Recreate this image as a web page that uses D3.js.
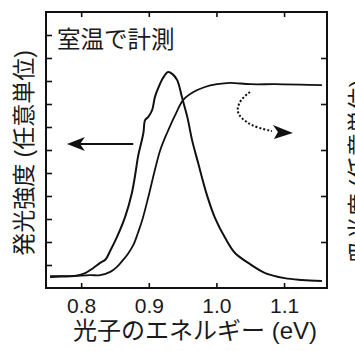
<!DOCTYPE html>
<html>
<head>
<meta charset="utf-8">
<script src="https://cdn.jsdelivr.net/npm/d3@7"></script>
<style>
  html, body { margin: 0; padding: 0; background: #fff; }
  svg text { font-family: "Liberation Sans", "Noto Sans CJK JP", sans-serif; fill: #1a1a1a; }
</style>
</head>
<body>
<div id="chart"></div>
<script>
// photon energy (eV) vs PL intensity (arb. units)
const plEnergy = [0.754, 0.770, 0.790, 0.806, 0.818, 0.828, 0.836, 0.843, 0.853, 0.865, 0.875, 0.881, 0.884,
  0.892, 0.8945, 0.899, 0.905, 0.909, 0.914, 0.921, 0.9285, 0.935, 0.942, 0.949, 0.957, 0.964, 0.973,
  0.986, 0.998, 1.013, 1.0275, 1.047, 1.072, 1.101, 1.126, 1.156];
const plIntensity = [0.48, 0.50, 0.52, 0.65, 0.87, 1.09, 1.24, 1.62, 2.22, 3.09, 4.13, 5.13, 5.70,
  6.74, 7.30, 7.43, 7.74, 8.30, 8.70, 9.13, 9.39, 9.30, 9.04, 8.30, 7.43, 6.43, 5.43,
  4.04, 3.04, 2.17, 1.52, 1.09, 0.65, 0.43, 0.35, 0.30];

// photon energy (eV) vs absorbance (arb. units)
const absEnergy = [0.754, 0.784, 0.813, 0.828, 0.843, 0.853, 0.862, 0.869, 0.877, 0.884, 0.890, 0.899,
  0.909, 0.917, 0.927, 0.939, 0.951, 0.966, 0.983, 1.001, 1.020, 1.050, 1.087, 1.124, 1.156];
const absValue = [0.26, 0.26, 0.28, 0.28, 0.35, 0.46, 0.61, 0.74, 0.93, 1.20, 1.46, 1.96,
  2.565, 3.00, 3.37, 3.76, 4.09, 4.26, 4.37, 4.43, 4.46, 4.43, 4.43, 4.42, 4.41];

const xTicks = [0.8, 0.9, 1.0, 1.1];
const plTicks = d3.range(1, 12);
const absTicks = [1, 2, 3, 4, 5];

const W = 355, H = 351;
const m = { left: 46, right: 28, top: 12, bottom: 63 };

const svg = d3.select('#chart').append('svg')
  .attr('width', W).attr('height', H);

const x = d3.scaleLinear().domain([0.748, 1.1635]).range([m.left, W - m.right]);
const yPL = d3.scaleLinear().domain([0, 12]).range([H - m.bottom, m.top]);
const yAbs = d3.scaleLinear().domain([0, 6]).range([H - m.bottom, m.top]);

// axes (ticks inside the frame)
const gB = svg.append('g').attr('transform', `translate(0,${H - m.bottom})`)
  .call(d3.axisBottom(x).tickValues(xTicks).tickSize(-5).tickPadding(10).tickFormat(d3.format('.1f')));
const gT = svg.append('g').attr('transform', `translate(0,${m.top})`)
  .call(d3.axisTop(x).tickValues(xTicks).tickSize(-5).tickFormat(''));
const gL = svg.append('g').attr('transform', `translate(${m.left},0)`)
  .call(d3.axisLeft(yPL).tickValues(plTicks).tickSize(-6).tickFormat(''));
const gR = svg.append('g').attr('transform', `translate(${W - m.right},0)`)
  .call(d3.axisRight(yAbs).tickValues(absTicks).tickSize(-6).tickFormat(''));

[gB, gT, gL, gR].forEach(g => {
  g.select('.domain').remove();
  g.selectAll('.tick line').attr('stroke', '#111').attr('stroke-width', 1.6);
});
gB.selectAll('.tick text').style('font-size', '21px').attr('fill', '#1a1a1a');

svg.append('rect')
  .attr('x', m.left).attr('y', m.top)
  .attr('width', W - m.left - m.right).attr('height', H - m.top - m.bottom)
  .attr('fill', 'none').attr('stroke', '#111').attr('stroke-width', 2);

// curves
const plLine = d3.line()
  .x((d, i) => x(plEnergy[i]))
  .y(d => yPL(d))
  .curve(d3.curveCatmullRom);
svg.append('path')
  .attr('d', plLine(plIntensity))
  .attr('fill', 'none').attr('stroke', '#111').attr('stroke-width', 2);

const absLine = d3.line()
  .x((d, i) => x(absEnergy[i]))
  .y(d => yAbs(d))
  .curve(d3.curveCatmullRom);
svg.append('path')
  .attr('d', absLine(absValue))
  .attr('fill', 'none').attr('stroke', '#111').attr('stroke-width', 1.8);

// arrow pointing to the left axis (PL)
const ay = yPL(6.26);
const ax0 = x(0.877), ax1 = x(0.779);
svg.append('line')
  .attr('x1', ax0).attr('y1', ay).attr('x2', ax1 + 10).attr('y2', ay)
  .attr('stroke', '#111').attr('stroke-width', 2);
svg.append('path')
  .attr('d', `M${ax1},${ay} L${ax1 + 18},${ay - 7} L${ax1 + 13},${ay} L${ax1 + 18},${ay + 7} Z`)
  .attr('fill', '#111');

// dotted arrow pointing to the right axis (absorbance)
const dotE = [1.0496, 1.0378, 1.0305, 1.0319, 1.0452, 1.0614, 1.082];
const dotA = [4.26, 4.13, 3.93, 3.76, 3.59, 3.48, 3.41];
const dotLine = d3.line()
  .x((d, i) => x(dotE[i]))
  .y(d => yAbs(d))
  .curve(d3.curveBasis);
svg.append('path')
  .attr('d', dotLine(dotA))
  .attr('fill', 'none').attr('stroke', '#111').attr('stroke-width', 2)
  .attr('stroke-dasharray', '2,2');
const tx = x(1.1131), ty = yAbs(3.37);
svg.append('path')
  .attr('d', `M${tx},${ty} L${tx - 20},${ty - 8} L${tx - 15},${ty - 1} L${tx - 19},${ty + 6} Z`)
  .attr('fill', '#111');

// texts
svg.append('text')
  .attr('x', 57).attr('y', 48)
  .style('font-size', '23.5px')
  .text('室温で計測');

svg.append('text')
  .attr('transform', `translate(24,${153}) rotate(-90)`)
  .attr('text-anchor', 'middle').attr('dominant-baseline', 'central')
  .style('font-size', '23px')
  .text('発光強度 (任意単位)');

svg.append('text')
  .attr('transform', `translate(359,${171}) rotate(-90)`)
  .attr('text-anchor', 'middle').attr('dominant-baseline', 'central')
  .style('font-size', '23px')
  .text('吸光度 (任意単位)');

svg.append('text')
  .attr('x', 195).attr('y', 339)
  .attr('text-anchor', 'middle')
  .style('font-size', '24px')
  .text('光子のエネルギー (eV)');
</script>
</body>
</html>
